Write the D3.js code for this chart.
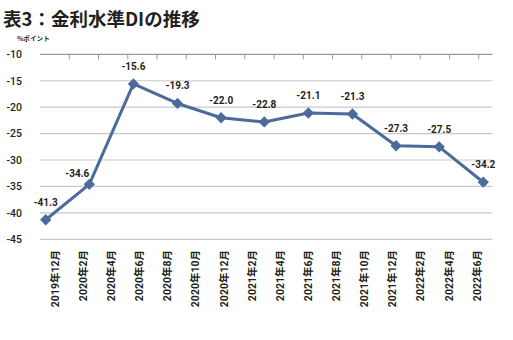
<!DOCTYPE html>
<html lang="ja">
<head>
<meta charset="utf-8">
<script src="https://cdn.jsdelivr.net/npm/d3@7"></script>
<style>
  html, body { margin: 0; padding: 0; background: #fff; }
  svg { display: block; }
  text { fill: #231f20; }
</style>
</head>
<body>
<svg id="chart" width="513" height="340"></svg>
<script>
// Axis labels along the bottom (bimonthly)
const categories = [
  "2019年12月", "2020年2月", "2020年4月", "2020年6月", "2020年8月", "2020年10月",
  "2020年12月", "2021年2月", "2021年4月", "2021年6月", "2021年8月", "2021年10月",
  "2021年12月", "2022年2月", "2022年4月", "2022年6月"
];

// Survey periods (quarterly) and the DI values
const periods = [
  "2019-12", "2020-03", "2020-06", "2020-09", "2020-12", "2021-03",
  "2021-06", "2021-09", "2021-12", "2022-03", "2022-06"
];
const diValues = [-41.3, -34.6, -15.6, -19.3, -22.0, -22.8, -21.1, -21.3, -27.3, -27.5, -34.2];

// Value axis ticks
const yTicks = [-10, -15, -20, -25, -30, -35, -40, -45];

const title = "表3：金利水準DIの推移";
const unitLabel = "%ポイント";

const numFont = "Roboto, 'Noto Sans CJK JP', sans-serif";
const jpFont = "'Noto Sans CJK JP', sans-serif";
const lineColor = "#4c6a9b";

const svg = d3.select("#chart");

const plot = { left: 40, right: 492.5, top: 54.3, bottom: 239.3 };

const y = d3.scaleLinear().domain([-45, -10]).range([plot.bottom, plot.top]);
const xLabels = d3.scaleBand().domain(categories).range([41, 491]);
const xTicks = d3.scaleBand().domain(categories).range([40, 508]);
const parseMonth = d3.timeParse("%Y-%m");
const dates = periods.map(parseMonth);
const x = d3.scaleTime().domain(d3.extent(dates)).range([45.7, 483.3]);

const data = dates.map((d, i) => ({ date: d, value: diValues[i] }));

// Title and unit
svg.append("text")
  .attr("x", 3).attr("y", 26)
  .attr("font-family", jpFont).attr("font-weight", 700)
  .attr("font-size", 18.5)
  .text(title);

svg.append("text")
  .attr("x", 17).attr("y", 41)
  .attr("font-family", jpFont).attr("font-weight", 700)
  .attr("font-size", 6.6)
  .text(unitLabel);

// Horizontal gridlines
svg.append("g")
  .selectAll("line")
  .data(yTicks.filter(t => t !== -10))
  .join("line")
  .attr("x1", plot.left).attr("x2", plot.right)
  .attr("y1", d => y(d)).attr("y2", d => y(d))
  .attr("stroke", "#c8c8c8").attr("stroke-width", 1.2);

// Category axis line sits along the top of the plot, ticks pointing down
const topAxis = svg.append("g")
  .attr("transform", `translate(0,${y(-10)})`)
  .call(d3.axisBottom(xTicks).tickSize(5).tickFormat("").tickSizeOuter(0));
topAxis.select(".domain").remove();
topAxis.selectAll(".tick")
  .attr("transform", d => `translate(${xTicks(d) + xTicks.bandwidth()},0)`);
topAxis.selectAll(".tick").filter(d => xTicks(d) + xTicks.bandwidth() > plot.right).remove();
topAxis.selectAll(".tick line").attr("stroke", "#9a9a9a").attr("stroke-width", 1);
svg.append("line")
  .attr("x1", plot.left).attr("x2", plot.right)
  .attr("y1", y(-10)).attr("y2", y(-10))
  .attr("stroke", "#9a9a9a").attr("stroke-width", 1.2);

// Value axis labels
svg.append("g")
  .selectAll("text")
  .data(yTicks)
  .join("text")
  .attr("x", 22).attr("y", d => y(d))
  .attr("dy", "0.36em")
  .attr("text-anchor", "end")
  .attr("font-family", numFont).attr("font-weight", 500)
  .attr("font-size", 10.5)
  .text(d => String(d));

// Category labels, rotated
svg.append("g")
  .selectAll("text")
  .data(categories)
  .join("text")
  .attr("transform", d => `translate(${xLabels(d) + xLabels.bandwidth() / 2},250) rotate(-90)`)
  .attr("dy", "0.36em")
  .attr("text-anchor", "end")
  .attr("font-family", numFont).attr("font-weight", 700)
  .attr("font-size", 10.5)
  .text(d => d);

// DI line
const line = d3.line().x(d => x(d.date)).y(d => y(d.value));
svg.append("path")
  .datum(data)
  .attr("d", line)
  .attr("fill", "none")
  .attr("stroke", lineColor)
  .attr("stroke-width", 3)
  .attr("stroke-linejoin", "round");

// Diamond markers
svg.append("g")
  .selectAll("path")
  .data(data)
  .join("path")
  .attr("d", d3.symbol(d3.symbolSquare, 64)())
  .attr("transform", d => `translate(${x(d.date)},${y(d.value)}) rotate(45)`)
  .attr("fill", lineColor);

// Value labels: above each point; shifted left where the line climbs steeply next
svg.append("g")
  .selectAll("text")
  .data(data)
  .join("text")
  .each(function (d, i) {
    const next = data[i + 1];
    const steepRise = next && next.value - d.value > 10;
    d3.select(this)
      .attr("x", x(d.date))
      .attr("y", steepRise ? y(d.value) - 7 : y(d.value) - 14)
      .attr("text-anchor", steepRise ? "end" : "middle");
  })
  .attr("font-family", numFont).attr("font-weight", 700)
  .attr("font-size", 10)
  .text(d => d.value.toFixed(1));
</script>
</body>
</html>
